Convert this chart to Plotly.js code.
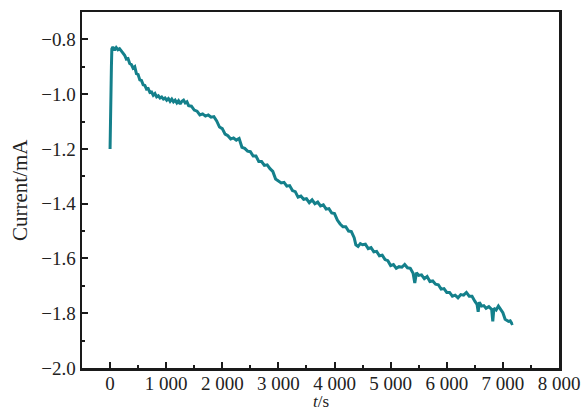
<!DOCTYPE html>
<html>
<head>
<meta charset="utf-8">
<script src="https://cdn.plot.ly/plotly-3.0.1.min.js"></script>
<style>html,body{margin:0;padding:0;background:#fff;}#chart{width:588px;height:412px;}</style>
</head>
<body>
<div id="chart"></div>
<script>
const timeS = [0,4,8,12,16,20,24,28,32,50,80,110,140,170,200,230,260,290,320,350,380,410,440,470,500,530,560,590,620,650,680,710,740,770,800,830,860,890,920,950,980,1010,1040,1070,1100,1130,1160,1190,1220,1250,1280,1310,1340,1370,1400,1450,1500,1550,1600,1650,1700,1750,1800,1850,1900,1950,2000,2050,2100,2150,2200,2250,2300,2350,2400,2450,2500,2550,2600,2650,2700,2750,2800,2850,2900,2950,3000,3050,3100,3150,3200,3250,3300,3350,3400,3450,3500,3550,3600,3650,3700,3750,3800,3850,3900,3950,4000,4050,4100,4150,4200,4250,4300,4350,4380,4420,4460,4500,4550,4600,4650,4700,4750,4800,4850,4900,4950,5000,5050,5100,5150,5200,5250,5300,5350,5400,5430,5460,5500,5550,5600,5650,5700,5750,5800,5850,5900,5950,6000,6050,6100,6150,6200,6250,6300,6350,6400,6450,6500,6540,6560,6580,6620,6660,6700,6750,6800,6820,6840,6880,6920,6960,7000,7040,7070,7100,7130,7160,7180];
const currentMA = [-1.20,-1.17,-1.12,-1.06,-1.00,-0.95,-0.90,-0.86,-0.835,
  -0.828,-0.840,-0.830,-0.838,-0.834,-0.842,-0.850,-0.858,-0.872,-0.870,
  -0.888,-0.892,-0.905,-0.900,-0.925,-0.928,-0.948,-0.950,-0.966,-0.968,
  -0.982,-0.980,-0.994,-0.992,-1.004,-0.998,-1.010,-1.006,-1.014,-1.010,
  -1.018,-1.014,-1.022,-1.016,-1.026,-1.018,-1.028,-1.022,-1.032,-1.024,
  -1.036,-1.026,-1.022,-1.032,-1.028,
  -1.042,-1.044,-1.058,-1.062,-1.076,-1.072,-1.080,-1.076,-1.084,-1.082,
  -1.098,-1.120,-1.126,-1.146,-1.152,-1.164,-1.160,-1.168,-1.162,-1.194,
  -1.198,-1.208,-1.210,-1.226,-1.226,-1.246,-1.246,-1.260,-1.258,-1.272,
  -1.282,-1.310,-1.318,-1.324,-1.322,-1.336,-1.334,-1.352,-1.356,-1.376,
  -1.372,-1.384,-1.382,-1.396,-1.386,-1.400,-1.394,-1.408,-1.404,-1.420,
  -1.418,-1.434,-1.436,-1.460,-1.474,-1.484,-1.484,-1.500,-1.502,-1.524,
  -1.550,-1.556,-1.546,
  -1.550,-1.548,-1.564,-1.560,-1.576,-1.574,-1.590,-1.588,-1.604,-1.608,
  -1.626,-1.622,-1.636,-1.630,-1.632,-1.622,-1.634,-1.636,-1.654,
  -1.690,-1.652,
  -1.662,-1.660,-1.674,-1.666,-1.684,-1.682,-1.694,-1.696,-1.712,-1.710,
  -1.724,-1.724,-1.738,-1.734,-1.744,-1.732,-1.734,-1.724,-1.738,-1.738,-1.756,
  -1.768,-1.795,-1.760,
  -1.774,-1.772,-1.782,
  -1.776,-1.786,
  -1.830,-1.782,-1.788,-1.774,-1.784,
  -1.798,-1.822,-1.826,-1.830,-1.828,-1.838,-1.836];
const xTickVals = [0,1000,2000,3000,4000,5000,6000,7000,8000];
const xTickText = ["0","1 000","2 000","3 000","4 000","5 000","6 000","7 000","8 000"];
const yTickVals = [-2.0,-1.8,-1.6,-1.4,-1.2,-1.0,-0.8];
const xTitle = "<i>t</i>/s";
const yTitle = "Current/mA";

const axisColor = "#1a1a1a";
const txtColor = "#222";
const fontFam = "Liberation Serif, Times New Roman, serif";

Plotly.newPlot("chart", [{
  x: timeS, y: currentMA, type: "scatter", mode: "lines",
  line: {color: "#14808b", width: 3}, hoverinfo: "skip"
}], {
  width: 588, height: 412,
  margin: {l: 82, r: 29, t: 12, b: 44},
  paper_bgcolor: "#fff", plot_bgcolor: "#fff",
  showlegend: false,
  font: {family: fontFam, size: 19, color: txtColor},
  xaxis: {
    range: [-500, 8000], showgrid: false, zeroline: false,
    showline: true, linecolor: axisColor, linewidth: 2.5, mirror: true,
    ticks: "inside", ticklen: 6, tickwidth: 2, tickcolor: axisColor,
    tickmode: "array", tickvals: xTickVals, ticktext: xTickText,
    ticklabelstandoff: -3,
    minor: {dtick: 500, tick0: 0, ticks: "inside", ticklen: 3, tickwidth: 2, tickcolor: axisColor},
    tickfont: {family: fontFam, size: 19, color: txtColor},
    automargin: false
  },
  yaxis: {
    range: [-2.0, -0.7], showgrid: false, zeroline: false,
    showline: true, linecolor: axisColor, linewidth: 2.5, mirror: true,
    ticks: "inside", ticklen: 6, tickwidth: 2, tickcolor: axisColor,
    tickmode: "array", tickvals: yTickVals, tickformat: ".1f",
    minor: {dtick: 0.1, tick0: 0, ticks: "inside", ticklen: 3, tickwidth: 2, tickcolor: axisColor},
    tickfont: {family: fontFam, size: 19, color: txtColor},
    automargin: false
  },
  annotations: [
    {text: xTitle, xref: "paper", yref: "paper", x: 0.5, y: 0, xanchor: "center", yanchor: "bottom",
     yshift: -44, showarrow: false, borderpad: 0, font: {family: fontFam, size: 17, color: txtColor}},
    {text: yTitle, xref: "paper", yref: "paper", x: 0, y: 0.5, xanchor: "center", yanchor: "middle",
     xshift: -62, textangle: -90, showarrow: false, font: {family: fontFam, size: 21, color: txtColor}}
  ]
}, {displayModeBar: false, staticPlot: true});
</script>
</body>
</html>
